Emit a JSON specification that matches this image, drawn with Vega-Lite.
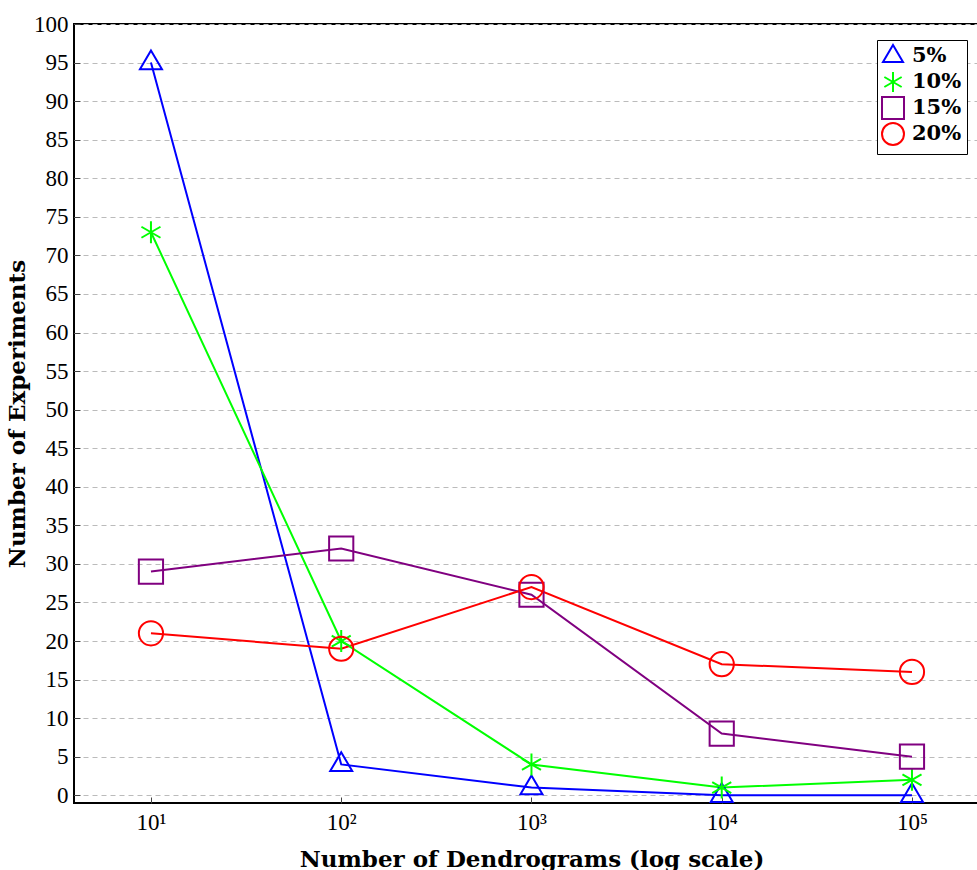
{
  "$schema": "https://vega.github.io/schema/vega-lite/v6.json",
  "width": 915,
  "height": 779,
  "autosize": "none",
  "padding": {"left": 74, "top": 24, "right": 0, "bottom": 67},
  "config": {
    "view": {"stroke": "black", "strokeWidth": 2},
    "font": "Liberation Serif",
    "axis": {"domain": false, "labelFont": "Liberation Serif", "labelFontSize": 23, "labelColor": "black", "titleFont": "DejaVu Serif", "titleFontSize": 23, "titleFontWeight": "bold", "titleColor": "black", "tickColor": "#444", "tickWidth": 1}
  },
  "data": {
    "values": [
      {"n": 10, "count": 95, "series": "5%"},
      {"n": 100, "count": 4, "series": "5%"},
      {"n": 1000, "count": 1, "series": "5%"},
      {"n": 10000, "count": 0, "series": "5%"},
      {"n": 100000, "count": 0, "series": "5%"},
      {"n": 10, "count": 73, "series": "10%"},
      {"n": 100, "count": 20, "series": "10%"},
      {"n": 1000, "count": 4, "series": "10%"},
      {"n": 10000, "count": 1, "series": "10%"},
      {"n": 100000, "count": 2, "series": "10%"},
      {"n": 10, "count": 29, "series": "15%"},
      {"n": 100, "count": 32, "series": "15%"},
      {"n": 1000, "count": 26, "series": "15%"},
      {"n": 10000, "count": 8, "series": "15%"},
      {"n": 100000, "count": 5, "series": "15%"},
      {"n": 10, "count": 21, "series": "20%"},
      {"n": 100, "count": 19, "series": "20%"},
      {"n": 1000, "count": 27, "series": "20%"},
      {"n": 10000, "count": 17, "series": "20%"},
      {"n": 100000, "count": 16, "series": "20%"}
    ]
  },
  "encoding": {
    "x": {
      "field": "n", "type": "quantitative",
      "scale": {"type": "log", "domain": [3.94, 254000], "nice": false},
      "axis": {"values": [10, 100, 1000, 10000, 100000], "grid": false, "tickSize": -6, "labelPadding": 14,
        "labelExpr": "'10' + ['⁰','¹','²','³','⁴','⁵'][round(log(datum.value)/LN10)]",
        "title": "Number of Dendrograms (log scale)", "titlePadding": 14}
    },
    "y": {
      "field": "count", "type": "quantitative",
      "scale": {"domain": [-1, 100], "nice": false, "zero": false},
      "axis": {"values": [0,5,10,15,20,25,30,35,40,45,50,55,60,65,70,75,80,85,90,95,100], "grid": true, "gridDash": [5, 4], "gridColor": "#bbbbbb", "gridWidth": 1,
        "tickSize": -6, "labelPadding": 12, "title": "Number of Experiments", "titlePadding": 4}
    },
    "color": {
      "field": "series", "type": "nominal",
      "scale": {"domain": ["5%", "10%", "15%", "20%"], "range": ["#0000ff", "#00ff00", "#800080", "#ff0000"]},
      "legend": {"title": null, "orient": "none", "legendX": 803, "legendY": 16, "strokeColor": "black", "fillColor": "white", "padding": 5, "gridAlign": "all",
        "labelFont": "DejaVu Serif", "labelFontSize": 21, "labelFontWeight": "bold", "labelColor": "black", "symbolSize": 400, "symbolStrokeWidth": 2, "rowPadding": -4, "labelOffset": 8}
    }
  },
  "layer": [
    {"mark": {"type": "line", "strokeWidth": 2}},
    {
      "mark": {"type": "point", "filled": false, "strokeWidth": 2, "size": 484, "opacity": 1},
      "encoding": {
        "shape": {
          "field": "series", "type": "nominal",
          "scale": {"domain": ["5%", "10%", "15%", "20%"], "range": [
            "M0,-1.1L1,0.6L-1,0.6Z",
            "M0,-1L0,1M-0.866,-0.5L0.866,0.5M-0.866,0.5L0.866,-0.5",
            "M-1.1,-1.1L1.1,-1.1L1.1,1.1L-1.1,1.1Z",
            "M1.1,0C1.1,0.6075,0.6075,1.1,0,1.1C-0.6075,1.1,-1.1,0.6075,-1.1,0C-1.1,-0.6075,-0.6075,-1.1,0,-1.1C0.6075,-1.1,1.1,-0.6075,1.1,0Z"
          ]},
          "legend": {"title": null, "orient": "none", "legendX": 803, "legendY": 16, "strokeColor": "black", "fillColor": "white", "padding": 5, "gridAlign": "all",
            "labelFont": "DejaVu Serif", "labelFontSize": 21, "labelFontWeight": "bold", "labelColor": "black", "symbolSize": 400, "symbolStrokeWidth": 2, "rowPadding": -4, "labelOffset": 8}
        }
      }
    }
  ]
}
